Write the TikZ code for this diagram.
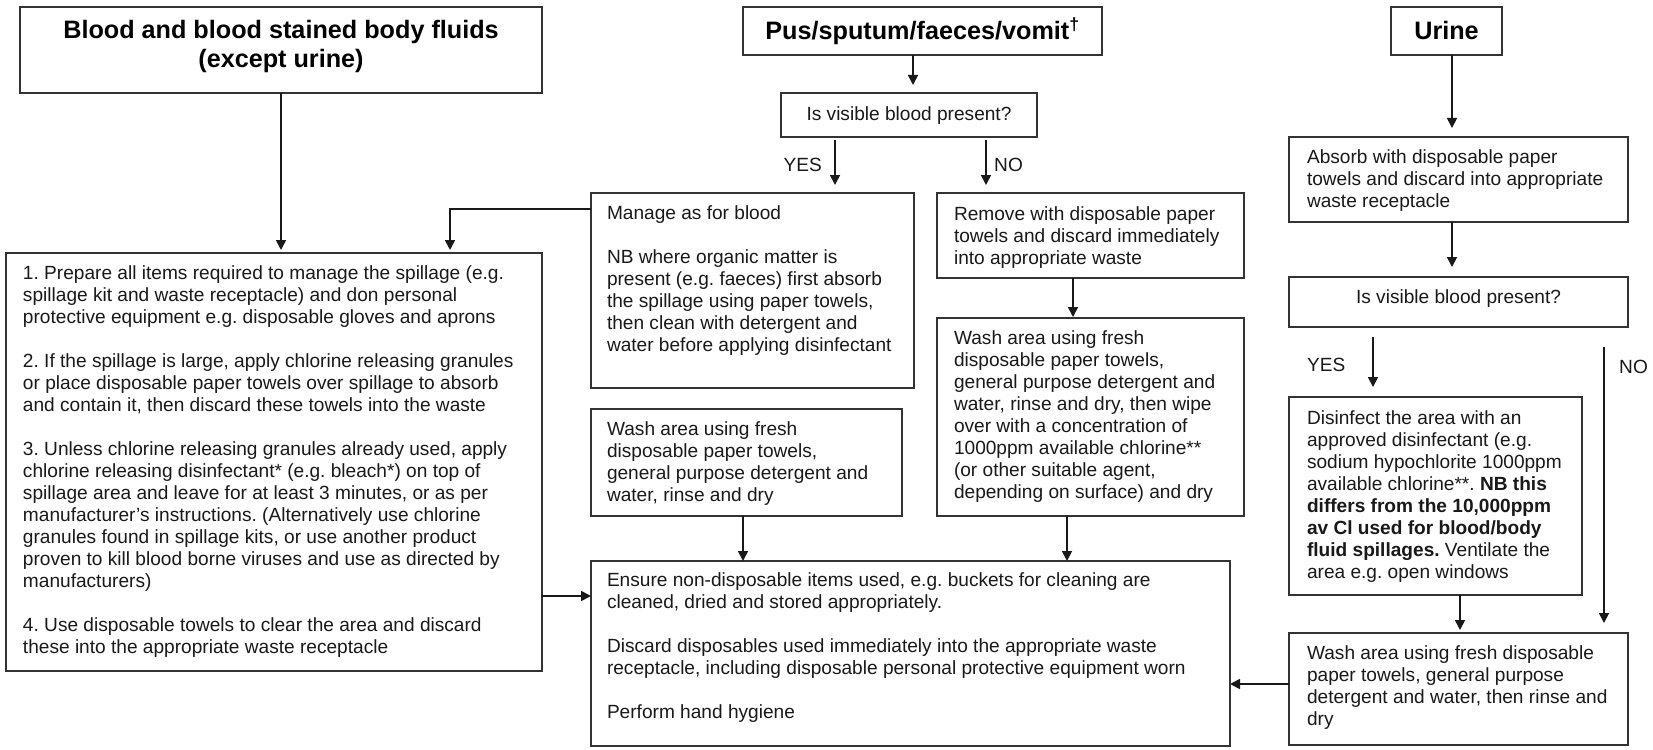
\documentclass[tikz,border=0pt]{standalone}
\usepackage{fontspec}
\setmainfont{Liberation Sans}
\usetikzlibrary{arrows.meta}
\newcommand\bx[3]{\makebox[#2][#1]{\begin{tabular}[t]{@{}#1@{}}#3\end{tabular}}}
\frenchspacing
\begin{document}
\frenchspacing
\begin{tikzpicture}[x=1pt,y=-1pt,
  box/.style={draw=black!80, line width=1.6pt, inner ysep=0pt, outer sep=0pt, anchor=north west,
    text=black!90, font=\fontsize{19.1}{22}\selectfont\frenchspacing},
  ttl/.style={box, inner xsep=0pt, text=black, font=\bfseries\fontsize{25.2}{29}\selectfont},
  arr/.style={draw=black!90, line width=1.7pt, -{Triangle[width=10pt,length=10pt]}},
  lbl/.style={inner sep=0pt, text=black!90, font=\fontsize{19.1}{22}\selectfont}]
\fill[white] (0,0) rectangle (1653,749);
\useasboundingbox (0,0) rectangle (1653,749);
% helper coordinates
\coordinate (c450) at (450,0);
\coordinate (c913) at (913,0);
\coordinate (c835) at (835,0);
\coordinate (c986) at (986,0);
\coordinate (c1073) at (1073,0);
\coordinate (c743) at (743,0);
\coordinate (c1067) at (1067,0);
\coordinate (c1452) at (1452,0);
\coordinate (c1373) at (1373,0);
\coordinate (c1604) at (1604,0);
\coordinate (c1460) at (1460,0);
\coordinate (r596) at (0,596);
\coordinate (r684) at (0,684);
% titles
\node[ttl, text height=32pt, text depth=54pt] (b1) at (20,7)
  {\bx{c}{522pt}{Blood and blood stained body fluids\\(except urine)}};
\node[ttl, text height=33pt, text depth=15pt] (pus) at (743,7)
  {\bx{c}{359pt}{Pus/sputum/faeces/vomit\textsuperscript{†}}};
\node[ttl, text height=33pt, text depth=15pt] (urine) at (1391,7)
  {\bx{c}{111pt}{Urine}};
% left column
\node[box, inner xsep=17pt, text height=26pt, text depth=392pt] (left) at (6,253)
  {\bx{l}{502pt}{1. Prepare all items required to manage the spillage (e.g.\\
spillage kit and waste receptacle) and don personal\\
protective equipment e.g. disposable gloves and aprons\\
\\
2. If the spillage is large, apply chlorine releasing granules\\
or place disposable paper towels over spillage to absorb\\
and contain it, then discard these towels into the waste\\
\\
3. Unless chlorine releasing granules already used, apply\\
chlorine releasing disinfectant* (e.g. bleach*) on top of\\
spillage area and leave for at least 3 minutes, or as per\\
manufacturer's instructions. (Alternatively use chlorine\\
granules found in spillage kits, or use another product\\
proven to kill blood borne viruses and use as directed by\\
manufacturers)\\
\\
4. Use disposable towels to clear the area and discard\\
these into the appropriate waste receptacle}};
% middle column
\node[box, inner xsep=0pt, text height=28pt, text depth=16pt] (q1) at (781,93)
  {\bx{c}{256pt}{Is visible blood present?}};
\node[box, inner xsep=16pt, text height=26pt, text depth=169pt] (manage) at (591,193)
  {\bx{l}{291pt}{Manage as for blood\\
\\
NB where organic matter is\\
present (e.g. faeces) first absorb\\
the spillage using paper towels,\\
then clean with detergent and\\
water before applying disinfectant}};
\node[box, inner xsep=16pt, text height=26pt, text depth=81pt] (wash1) at (591,409)
  {\bx{l}{279pt}{Wash area using fresh\\
disposable paper towels,\\
general purpose detergent and\\
water, rinse and dry}};
\node[box, inner xsep=17pt, text height=27pt, text depth=58pt] (remove) at (937,193)
  {\bx{l}{273pt}{Remove with disposable paper\\
towels and discard immediately\\
into appropriate waste}};
\node[box, inner xsep=17pt, text height=26pt, text depth=172pt] (wash2) at (937,318)
  {\bx{l}{273pt}{Wash area using fresh\\
disposable paper towels,\\
general purpose detergent and\\
water, rinse and dry, then wipe\\
over with a concentration of\\
1000ppm available chlorine**\\
(or other suitable agent,\\
depending on surface) and dry}};
\node[box, inner xsep=16pt, text height=25pt, text depth=160pt] (ensure) at (591,561)
  {\bx{l}{607pt}{Ensure non-disposable items used, e.g. buckets for cleaning are\\
cleaned, dried and stored appropriately.\\
\\
Discard disposables used immediately into the appropriate waste\\
receptacle, including disposable personal protective equipment worn\\
\\
Perform hand hygiene}};
% right column
\node[box, inner xsep=18pt, text height=26pt, text depth=59pt] (absorb) at (1289,137)
  {\bx{l}{303pt}{Absorb with disposable paper\\
towels and discard into appropriate\\
waste receptacle}};
\node[box, inner xsep=0pt, text height=26pt, text depth=24pt] (q2) at (1289,277)
  {\bx{c}{339pt}{Is visible blood present?}};
\node[box, inner xsep=18pt, text height=27pt, text depth=171pt] (disinf) at (1289,397)
  {\bx{l}{257pt}{Disinfect the area with an\\
approved disinfectant (e.g.\\
sodium hypochlorite 1000ppm\\
available chlorine**. \textbf{NB this}\\
\textbf{differs from the 10,000ppm}\\
\textbf{av Cl used for blood/body}\\
\textbf{fluid spillages.} Ventilate the\\
area e.g. open windows}};
\node[box, inner xsep=18pt, text height=26pt, text depth=86pt] (final) at (1289,633)
  {\bx{l}{303pt}{Wash area using fresh disposable\\
paper towels, general purpose\\
detergent and water, then rinse and\\
dry}};
% labels
\node[lbl, anchor=base east] (yes1) at (822,171) {YES};
\node[lbl, anchor=base west] (no1) at (994,171) {NO};
\node[lbl, anchor=base west] (yes2) at (1307,371) {YES};
\node[lbl, anchor=base west] (no2) at (1619,373) {NO};
% connectors
\draw[arr, shorten >=3pt] (b1.south) -- (b1.south |- left.north);
\draw[arr, shorten >=3pt] ([yshift=-16pt]manage.north west) -| (left.north -| c450);
\draw[arr, shorten >=8pt] (pus.south -| c913) -- (q1.north -| c913);
\draw[arr, shorten <=3pt, shorten >=8pt] (q1.south -| c835) -- (manage.north -| c835);
\draw[arr, shorten <=3pt, shorten >=8pt] (q1.south -| c986) -- (remove.north -| c986);
\draw[arr, shorten >=1pt] (remove.south -| c1073) -- (wash2.north -| c1073);
\draw[arr] (wash1.south -| c743) -- (ensure.north -| c743);
\draw[arr] (wash2.south -| c1067) -- (ensure.north -| c1067);
\draw[arr] (left.east |- r596) -- (ensure.west |- r596);
\draw[arr, shorten >=9pt] (urine.south -| c1452) -- (absorb.north -| c1452);
\draw[arr, shorten >=10pt] (absorb.south -| c1452) -- (q2.north -| c1452);
\draw[arr, shorten <=10pt, shorten >=10pt] (q2.south -| c1373) -- (disinf.north -| c1373);
\draw[arr, shorten <=20pt, shorten >=10pt] (q2.south -| c1604) -- (final.north -| c1604);
\draw[arr, shorten >=3pt] (disinf.south -| c1460) -- (final.north -| c1460);
\draw[arr] (final.west |- r684) -- (ensure.east |- r684);
\end{tikzpicture}
\end{document}
